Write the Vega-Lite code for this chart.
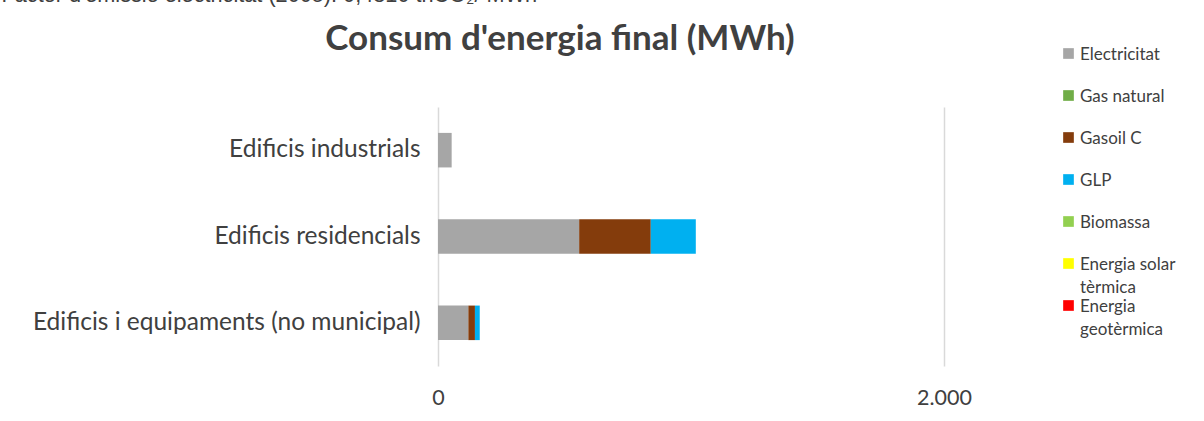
{
  "$schema": "https://vega.github.io/schema/vega-lite/v6.json",
  "width": 506,
  "height": 259,
  "autosize": "none",
  "padding": {"left": 438, "top": 107, "right": 260, "bottom": 55},
  "background": "white",
  "title": {
    "text": "Consum d'energia final (MWh)",
    "font": "Lato",
    "fontSize": 35,
    "fontWeight": "bold",
    "color": "#404040",
    "anchor": "middle",
    "frame": "group",
    "dx": -131,
    "offset": -101,
    "baseline": "alphabetic"
  },
  "data": {
    "values": [
      {"Sector": "Edificis industrials", "Font": "Electricitat", "MWh": 54},
      {"Sector": "Edificis residencials", "Font": "Electricitat", "MWh": 558},
      {"Sector": "Edificis residencials", "Font": "Gasoil C", "MWh": 283},
      {"Sector": "Edificis residencials", "Font": "GLP", "MWh": 178},
      {"Sector": "Edificis i equipaments (no municipal)", "Font": "Electricitat", "MWh": 120},
      {"Sector": "Edificis i equipaments (no municipal)", "Font": "Gasoil C", "MWh": 26},
      {"Sector": "Edificis i equipaments (no municipal)", "Font": "GLP", "MWh": 19}
    ]
  },
  "transform": [
    {"calculate": "indexof(['Electricitat','Gas natural','Gasoil C','GLP','Biomassa','Energia solar tèrmica','Energia geotèrmica'], datum.Font)", "as": "ordre"}
  ],
  "mark": {"type": "bar"},
  "encoding": {
    "y": {
      "field": "Sector",
      "type": "nominal",
      "sort": ["Edificis industrials", "Edificis residencials", "Edificis i equipaments (no municipal)"],
      "scale": {"paddingInner": 0.6, "paddingOuter": 0.3},
      "axis": {
        "title": null,
        "domain": false,
        "ticks": false,
        "grid": false,
        "labelFont": "Lato",
        "labelFontSize": 24.5,
        "labelColor": "#404040",
        "labelPadding": 18,
        "labelLimit": 600
      }
    },
    "x": {
      "field": "MWh",
      "type": "quantitative",
      "stack": "zero",
      "scale": {"domain": [0, 2000], "nice": false},
      "axis": {
        "values": [0, 2000],
        "labelExpr": "replace(format(datum.value, ','), ',', '.')",
        "domain": false,
        "ticks": false,
        "grid": true,
        "gridColor": "#d9d9d9",
        "gridWidth": 1.5,
        "labelFlush": false,
        "labelOverlap": false,
        "labelFont": "Lato",
        "labelFontSize": 21.5,
        "labelColor": "#404040",
        "labelPadding": 21,
        "title": "Factor d'emissió electricitat (2005): 0,4810 tnCO₂/ MWh",
        "titleFont": "Liberation Sans",
        "titleFontSize": 21.7,
        "titleFontWeight": "normal",
        "titleColor": "#404040",
        "titleX": -437,
        "titleY": -365,
        "titleAlign": "left",
        "titleBaseline": "alphabetic",
        "titleAngle": 0
      }
    },
    "color": {
      "field": "Font",
      "type": "nominal",
      "scale": {
        "domain": ["Electricitat", "Gas natural", "Gasoil C", "GLP", "Biomassa", "Energia solar tèrmica", "Energia geotèrmica"],
        "range": ["#a6a6a6", "#70ad47", "#843c0c", "#00b0f0", "#92d050", "#ffff00", "#ff0000"]
      },
      "legend": {
        "title": null,
        "orient": "none",
        "legendX": 622,
        "legendY": -62,
        "direction": "vertical",
        "columns": 1,
        "padding": 0,
        "symbolType": "square",
        "symbolSize": 114,
        "symbolStrokeWidth": 0,
        "labelFont": "Lato",
        "labelFontSize": 17,
        "labelColor": "#404040",
        "labelOffset": 3,
        "labelLimit": 200,
        "rowPadding": 1,
        "gridAlign": "all",
        "labelBaseline": "alphabetic",
        "labelExpr": "datum.label == 'Energia solar tèrmica' ? ['Energia solar', 'tèrmica'] : datum.label == 'Energia geotèrmica' ? ['Energia', 'geotèrmica'] : datum.label",
        "encode": {
          "labels": {"update": {"dy": {"value": 6}, "lineHeight": {"value": 23}}}
        }
      }
    },
    "order": {"field": "ordre", "type": "quantitative"}
  },
  "config": {"view": {"stroke": null}, "font": "Lato"}
}
